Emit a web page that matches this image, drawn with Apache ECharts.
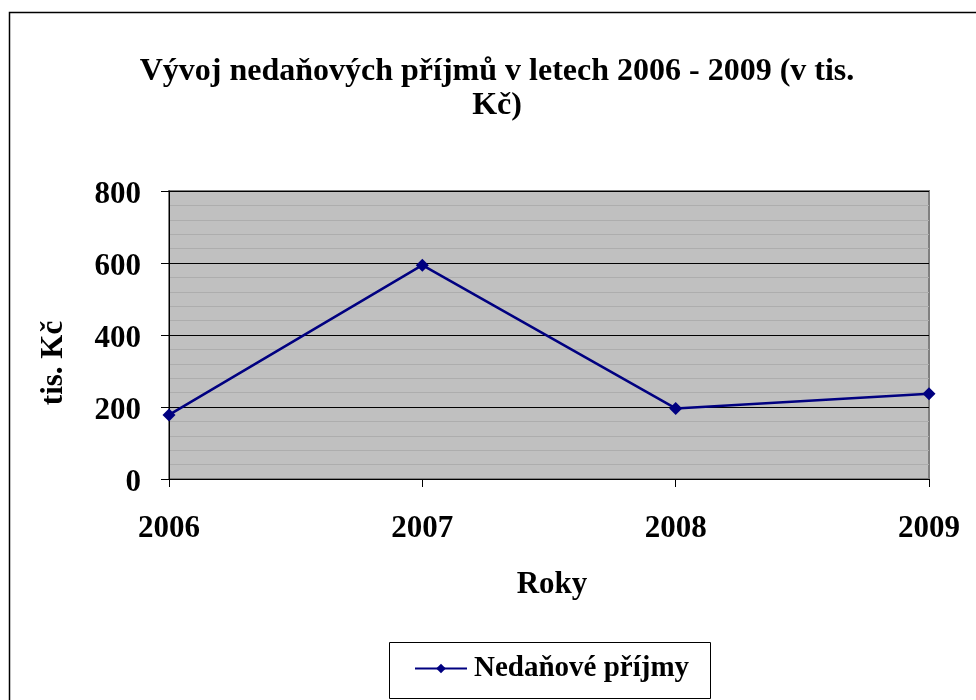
<!DOCTYPE html>
<html>
<head>
<meta charset="utf-8">
<script src="https://cdn.jsdelivr.net/npm/echarts@6/dist/echarts.min.js"></script>
<style>
html,body{margin:0;padding:0;background:#fff;}
#chart{width:976px;height:700px;}
</style>
</head>
<body>
<div id="chart"></div>
<script>
var titleText = 'Vývoj nedaňových příjmů v letech 2006 - 2009 (v tis.\nKč)';
var categories = ['2006', '2007', '2008', '2009'];
var seriesName = 'Nedaňové příjmy';
var values = [178, 594, 196, 237];
var yTicks = [0, 200, 400, 600, 800];
var xAxisName = 'Roky';
var yAxisName = 'tis. Kč';

var FONT = '"Liberation Serif", "Times New Roman", serif';
var chart = echarts.init(document.getElementById('chart'), null, {renderer: 'canvas'});
chart.setOption({
  animation: false,
  backgroundColor: '#ffffff',
  textStyle: {fontFamily: FONT},
  title: {
    text: titleText,
    left: 492,
    top: 50,
    textAlign: 'center',
    textStyle: {fontFamily: FONT, fontWeight: 'bold', fontSize: 32, color: '#000', lineHeight: 34, align: 'center'}
  },
  graphic: [
    {type: 'rect', shape: {x: 9.5, y: 12.5, width: 1000, height: 1000}, style: {fill: 'none', stroke: '#000', lineWidth: 1.5}, z: 100},
    {type: 'rect', shape: {x: 389.5, y: 642.5, width: 321, height: 56}, style: {fill: 'none', stroke: '#000', lineWidth: 1}, z: 100},
    {type: 'text', x: 552, y: 585, style: {text: xAxisName, font: 'bold 31px ' + FONT, fill: '#000', align: 'center', verticalAlign: 'middle'}},
    {type: 'text', x: 54, y: 363, rotation: Math.PI / 2, style: {text: yAxisName, font: 'bold 31px ' + FONT, fill: '#000', align: 'center', verticalAlign: 'middle'}}
  ],
  legend: {
    data: [seriesName],
    left: 409,
    top: 654,
    padding: [0, 5, 0, 5],
    itemWidth: 52,
    itemHeight: 12,
    itemGap: 3,
    textStyle: {fontFamily: FONT, fontWeight: 'bold', fontSize: 29, color: '#000', padding: [0, 0, 0, 2]}
  },
  grid: {left: 169, right: 47, top: 191, bottom: 221, show: true, backgroundColor: '#c0c0c0', borderColor: '#808080', borderWidth: 2},
  xAxis: {
    type: 'category',
    data: categories,
    boundaryGap: false,
    axisLine: {lineStyle: {color: '#000', width: 1}},
    axisTick: {show: true, length: 8, lineStyle: {color: '#000'}},
    axisLabel: {fontFamily: FONT, fontWeight: 'bold', fontSize: 31, color: '#000', margin: 34},
    splitLine: {show: false}
  },
  yAxis: {
    type: 'value',
    min: yTicks[0],
    max: yTicks[yTicks.length - 1],
    interval: 200,
    axisLine: {show: true, lineStyle: {color: '#000', width: 1}},
    axisTick: {show: true, length: 8, lineStyle: {color: '#000'}},
    axisLabel: {fontFamily: FONT, fontWeight: 'bold', fontSize: 31, color: '#000', margin: 28, verticalAlign: 'top', lineHeight: 31, padding: [-12, 0, 0, 0]},
    splitLine: {show: true, lineStyle: {color: '#000', width: 1}},
    minorTick: {show: false, splitNumber: 5},
    minorSplitLine: {show: true, lineStyle: {color: '#adadad', width: 1}}
  },
  series: [{
    name: seriesName,
    type: 'line',
    data: values,
    symbol: 'diamond',
    symbolSize: 13,
    itemStyle: {color: '#000080'},
    lineStyle: {color: '#000080', width: 2.5}
  }]
});
</script>
</body>
</html>
